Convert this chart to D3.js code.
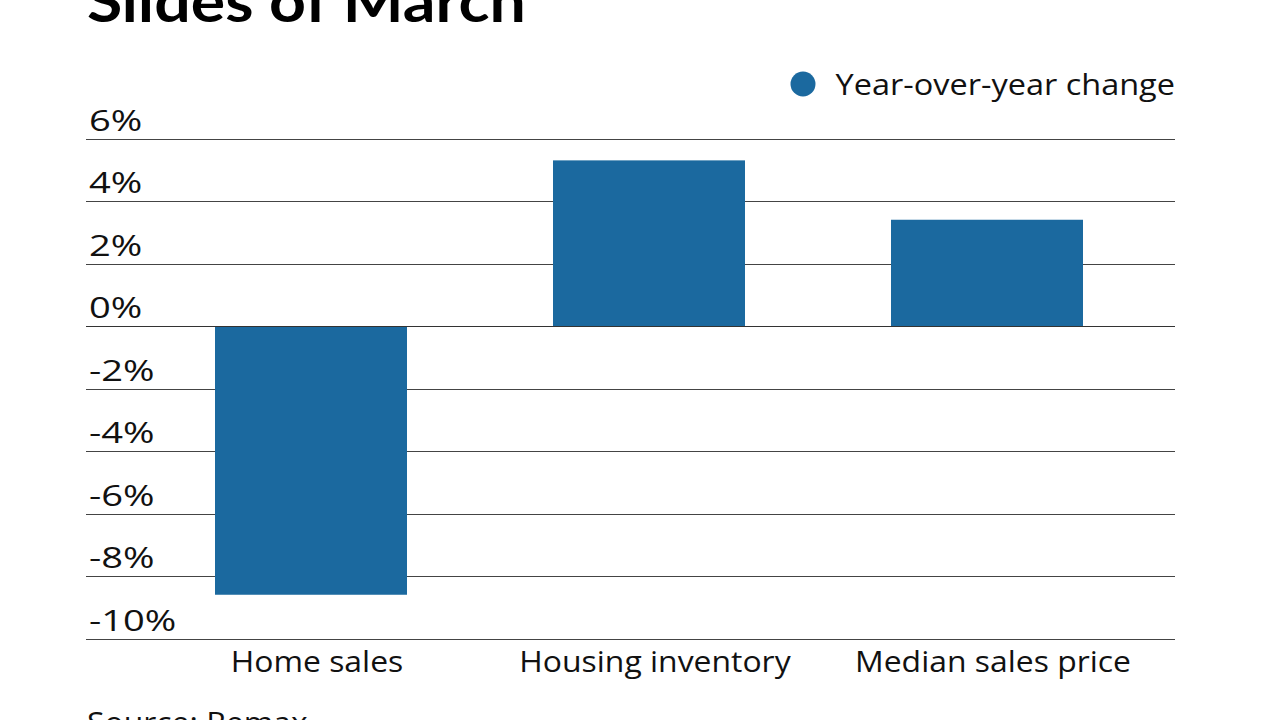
<!DOCTYPE html>
<html>
<head>
<meta charset="utf-8">
<script src="https://cdn.jsdelivr.net/npm/d3@7"></script>
<style>
  html, body { margin: 0; padding: 0; background: #fff; }
  svg { display: block; font-family: "Open Sans", Lato, sans-serif; }
</style>
</head>
<body>
<svg id="chart" width="1280" height="720"></svg>
<script>
const titleText = "Slides of March";
const sourceText = "Source: Remax";
const legendLabel = "Year-over-year change";
const categories = ["Home sales", "Housing inventory", "Median sales price"];
const values = [-8.6, 5.3, 3.4];
const tickValues = [6, 4, 2, 0, -2, -4, -6, -8, -10];

const svg = d3.select("#chart");
const barColor = "#1b699f";

// widen glyphs to match the reference's wide geometric face
function stretch(sel, factor) {
  sel.each(function () {
    const w = this.getComputedTextLength();
    d3.select(this).attr("textLength", w * factor).attr("lengthAdjust", "spacingAndGlyphs");
  });
}

const y = d3.scaleLinear().domain([-10, 6]).range([638.5, 138.5]);
const x = d3.scaleBand().domain(categories).range([142, 1156]).paddingInner(0.432).paddingOuter(0.216);

// Title (cut off at top)
svg.append("text").attr("x", 87).attr("y", 22)
  .attr("font-size", 58).attr("font-weight", 700).attr("fill", "#000")
  .attr("font-family", "Lato, sans-serif")
  .text(titleText)
  .call(stretch, 1.11);

// Gridlines
svg.append("g").selectAll("line").data(tickValues).join("line")
  .attr("x1", 86).attr("x2", 1175)
  .attr("y1", d => Math.round(y(d)) + 0.5).attr("y2", d => Math.round(y(d)) + 0.5)
  .attr("stroke", "#444").attr("stroke-width", 1);

// Tick labels
svg.append("g").selectAll("text").data(tickValues).join("text")
  .attr("x", 89).attr("y", d => y(d) - 8)
  .attr("font-size", 30).attr("fill", "#111")
  .text(d => d + "%")
  .call(stretch, 1.27);

// Bars
svg.append("g").selectAll("rect").data(values).join("rect")
  .attr("x", (d, i) => x(categories[i]))
  .attr("width", x.bandwidth())
  .attr("y", d => y(Math.max(0, d)))
  .attr("height", d => Math.abs(y(d) - y(0)))
  .attr("fill", barColor);

// Zero line over bars
svg.append("line").attr("x1", 86).attr("x2", 1175)
  .attr("y1", Math.round(y(0)) + 0.5).attr("y2", Math.round(y(0)) + 0.5)
  .attr("stroke", "#333").attr("stroke-width", 1);

// Category labels
svg.append("g").selectAll("text").data(categories).join("text")
  .attr("x", d => x(d) + x.bandwidth() / 2 + 6)
  .attr("y", 672)
  .attr("text-anchor", "middle")
  .attr("font-size", 29).attr("fill", "#111")
  .text(d => d)
  .call(stretch, 1.1);

// Legend
svg.append("circle").attr("cx", 803).attr("cy", 84).attr("r", 12.5).attr("fill", barColor);
svg.append("text").attr("x", 1175).attr("y", 95).attr("text-anchor", "end")
  .attr("font-size", 29).attr("fill", "#111").text(legendLabel)
  .call(stretch, 1.12);

// Source (cut off at bottom)
svg.append("text").attr("x", 87).attr("y", 733)
  .attr("font-size", 29).attr("fill", "#111").text(sourceText)
  .call(stretch, 1.1);
</script>
</body>
</html>
